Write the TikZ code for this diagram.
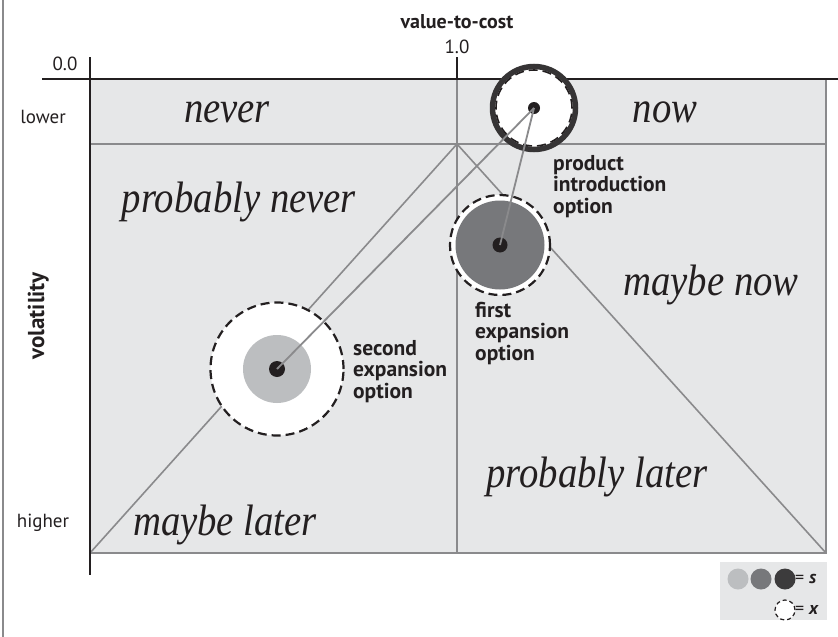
\documentclass[tikz,border=0pt]{standalone}
\usepackage{fontspec}
\usepackage{graphicx}
\newfontfamily\lblsans{PT Sans}
\newfontfamily\regserif{Liberation Serif}

\definecolor{plotbg}{HTML}{E6E7E8}
\definecolor{gridgray}{HTML}{8A8A8C}
\definecolor{ink}{HTML}{231F20}
\definecolor{ringdark}{HTML}{363435}
\definecolor{sdark}{HTML}{3C3B3C}
\definecolor{smid}{HTML}{77787B}
\definecolor{slight}{HTML}{BCBEC0}

\tikzset{
  gridline/.style={draw=gridgray, line width=1.6pt},
  axisline/.style={draw=ink, line width=1.8pt},
  conn/.style={draw=gridgray, line width=1.8pt},
  xcircle/.style={circle, fill=white, draw=ink, line width=2.2pt, dash pattern=on 9pt off 5pt, inner sep=0pt},
  sdisk/.style={circle, draw=none, inner sep=0pt},
  dotmark/.style={circle, fill=ink, inner sep=0pt},
  region/.style={inner sep=0pt, anchor=base, text=ink, font=\regserif\fontsize{44}{44}\selectfont\itshape},
  axislabel/.style={inner sep=0pt, text=ink, font=\lblsans\fontsize{19}{21}\selectfont},
  axistitle/.style={inner sep=0pt, text=ink, font=\lblsans\bfseries\fontsize{20}{22}\selectfont},
  optlabel/.style={inner sep=0pt, anchor=north west, align=left, text=ink,
    font=\lblsans\bfseries\fontsize{21.5}{21.5}\selectfont},
}

\newcommand{\regtext}[1]{\scalebox{0.88}[1]{#1}}

\begin{document}
\begin{tikzpicture}[x=1pt, y=-1pt]
  \useasboundingbox (0,0) rectangle (838,637);

  % outer frame line on the left
  \draw[draw=gridgray, line width=1.4pt] (3,0) -- (3,637);

  % plot area
  \fill[plotbg] (90,79) rectangle (826,553);

  % region boundaries
  \coordinate (apex) at (457,144);
  \coordinate (bl) at (90,553);
  \coordinate (br) at (826,553);
  \coordinate (hl) at (90,144);
  \coordinate (hr) at (826,144);
  \coordinate (vt) at (457,79);
  \coordinate (vb) at (457,553);
  \coordinate (tr) at (826,79);
  \draw[gridline] (hl) -- (hr);
  \draw[gridline] (vt) -- (vb);
  \draw[gridline] (tr) -- (br) -- (bl);
  \draw[gridline] (bl) -- (apex) -- (br);

  % axes
  \coordinate (xa0) at (42,79);
  \coordinate (xa1) at (838,79);
  \coordinate (ya0) at (90,57);
  \coordinate (ya1) at (90,575);
  \coordinate (tk0) at (457,57);
  \draw[axisline] (xa0) -- (xa1);
  \draw[axisline] (ya0) -- (ya1);
  \draw[axisline] (tk0) -- (vt);

  % second expansion option
  \node[xcircle, minimum size=133pt] (sec-x) at (277,369) {};
  \node[sdisk, fill=slight, minimum size=68pt] (sec-s) at (277,369) {};
  \node[dotmark, minimum size=16pt] (sec-dot) at (277,369) {};

  % first expansion option
  \node[xcircle, minimum size=100pt] (fst-x) at (500,245) {};
  \node[sdisk, fill=smid, minimum size=89pt] (fst-s) at (500,245) {};
  \node[dotmark, minimum size=15pt] (fst-dot) at (500,245) {};

  % product introduction option
  \node[circle, fill=white, draw=ringdark, line width=5.5pt, minimum size=83pt, inner sep=0pt] (prd-s) at (534,108) {};
  \node[circle, draw=ink, line width=1.6pt, dash pattern=on 9pt off 5pt, minimum size=76pt, inner sep=0pt] (prd-x) at (534,108) {};
  \node[dotmark, minimum size=12pt] (prd-dot) at (534,108) {};

  % links between the options
  \draw[conn] (prd-dot.center) -- (sec-dot.center);
  \draw[conn] (prd-dot.center) -- (fst-dot.center);

  % region names
  \node[region] (r-never) at (227,122) {\regtext{never}};
  \node[region] (r-now) at (665,122) {\regtext{now}};
  \node[region] (r-pnever) at (239,212) {\regtext{probably never}};
  \node[region] (r-mnow) at (711,295) {\regtext{maybe now}};
  \node[region] (r-plater) at (597,487) {\regtext{probably later}};
  \node[region] (r-mlater) at (225,535) {\regtext{maybe later}};

  % option labels
  \node[optlabel] (l-prd) at (553,155) {product\\introduction\\option};
  \node[optlabel] (l-fst) at (475,302) {first\\expansion\\option};
  \node[optlabel] (l-sec) at (353,340) {second\\expansion\\option};

  % axis labels
  \node[axistitle, anchor=base] (t-vc) at (457,28) {value-to-cost};
  \node[axislabel, anchor=base] (t-one) at (457,53) {1.0};
  \node[axislabel, anchor=base] (t-zero) at (65,70) {0.0};
  \node[axislabel, anchor=base] (t-lower) at (43,123) {lower};
  \node[axislabel, anchor=base] (t-higher) at (43,527) {higher};
  \node[axistitle, font=\lblsans\bfseries\fontsize{23}{25}\selectfont, rotate=90, anchor=base] (t-vol) at (44,316) {volatility};

  % key
  \fill[plotbg] (720,562) rectangle (827,620);
  \node[sdisk, fill=slight, minimum size=21pt] (k-light) at (738,579) {};
  \node[sdisk, fill=smid, minimum size=21pt] (k-mid) at (761,579) {};
  \node[sdisk, fill=sdark, minimum size=21pt] (k-dark) at (785,579) {};
  \node[circle, fill=white, draw=ink, line width=1.2pt, dash pattern=on 4pt off 3pt, minimum size=20pt, inner sep=0pt] (k-x) at (785,610) {};
  \node[axislabel, anchor=west, font=\lblsans\fontsize{18}{20}\selectfont] (k-s-t) at (795,579) {= \textbf{\textit{s}}};
  \node[axislabel, anchor=west, font=\lblsans\fontsize{18}{20}\selectfont] (k-x-t) at (795,610) {= \textbf{\textit{x}}};
\end{tikzpicture}
\end{document}
